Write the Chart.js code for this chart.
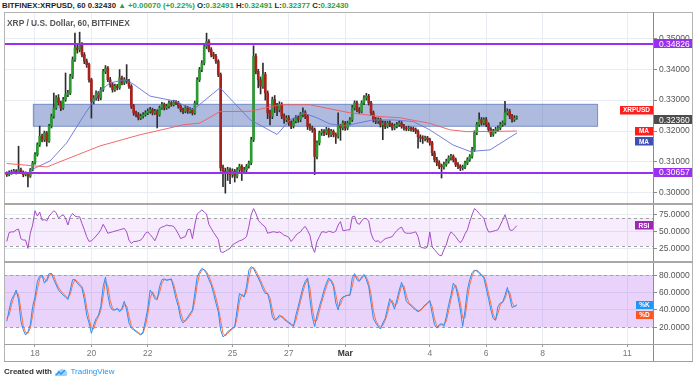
<!DOCTYPE html>
<html>
<head>
<meta charset="utf-8">
<script src="https://cdn.jsdelivr.net/npm/chart.js@4.4.1/dist/chart.umd.min.js"></script>
<style>
html,body{margin:0;padding:0;background:#fff;}
body{width:696px;height:382px;overflow:hidden;position:relative;font-family:"Liberation Sans",Arial,sans-serif;}
canvas{position:absolute;left:0;}
.ln{position:absolute;}
#hdr{position:absolute;left:2px;top:0;height:12px;line-height:12px;font-size:7.8px;font-weight:bold;color:#1e1e1e;white-space:nowrap;}
#hdr .g{color:#2f9e44;}
#sub{position:absolute;left:7px;top:18px;line-height:11px;font-size:8.4px;font-weight:bold;color:#555;white-space:nowrap;}
#foot{position:absolute;left:4px;top:366px;line-height:12px;font-size:8px;white-space:nowrap;color:#333;display:flex;align-items:center;}
#foot b{font-weight:bold;}
#foot .tv{color:#2196f3;}
</style>
</head>
<body>
<canvas id="cMain" width="696" height="191" style="top:13px"></canvas>
<canvas id="cRsi" width="696" height="58" style="top:204px"></canvas>
<canvas id="cSto" width="696" height="99" style="top:262px"></canvas>

<div class="ln" style="left:4px;top:12px;width:689px;height:1px;background:#b4b4b4"></div>
<div class="ln" style="left:4px;top:12px;width:1px;height:350px;background:#b4b4b4"></div>
<div class="ln" style="left:692px;top:12px;width:1px;height:350px;background:#b4b4b4"></div>
<div class="ln" style="left:653px;top:12px;width:1px;height:350px;background:#8c8c8c"></div>
<div class="ln" style="left:4px;top:203px;width:689px;height:2px;background:#a8a8a8"></div>
<div class="ln" style="left:4px;top:261px;width:689px;height:2px;background:#a8a8a8"></div>
<div class="ln" style="left:4px;top:344px;width:689px;height:1px;background:#a0a0a0"></div>
<div class="ln" style="left:4px;top:361px;width:689px;height:1px;background:#a0a0a0"></div>

<div id="hdr">BITFINEX:XRPUSD, 60 <span>0.32430</span> <span class="g">&#9650; +0.00070 (+0.22%)</span> O:<span class="g">0.32491</span> H:<span class="g">0.32491</span> L:<span class="g">0.32377</span> C:<span class="g">0.32430</span></div>
<div id="sub">XRP / U.S. Dollar, 60, BITFINEX</div>
<div id="foot"><b>Created with</b>&nbsp;<svg width="14" height="9" viewBox="0 0 14 9"><path d="M1 8 Q0 5 3 5 Q3 2 6 2 Q8 0 10 2 Q13 2 13 5 Q14 8 11 8 Z" fill="#9fd0f7"/><path d="M2 7 L5 4 L7 6 L11 2" stroke="#2196f3" stroke-width="1.3" fill="none"/></svg>&nbsp;<span class="tv">TradingView</span></div>

<script>
// ---------- data (2-hour candles, index 0 = Feb 16 ~22:00) ----------
const open=[
.3062,.3059,.3065,.3067,.3070,.3067,.3075,.3067,.3059,.3062,
.3054,.3075,.3097,.3124,.3156,.3183,.3172,.3194,.3167,.3216,
.3248,.3275,.3307,.3291,.3275,.3302,.3318,.3323,.3377,.3431,
.3469,.3463,.3480,.3447,.3426,.3415,.3366,.3296,.3307,.3323,
.3307,.3334,.3393,.3404,.3366,.3350,.3334,.3345,.3340,.3372,
.3356,.3366,.3361,.3345,.3280,.3259,.3253,.3242,.3248,.3253,
.3259,.3264,.3269,.3259,.3264,.3253,.3275,.3286,.3275,.3280,
.3291,.3286,.3293,.3291,.3280,.3269,.3264,.3275,.3264,.3269,
.3259,.3291,.3366,.3399,.3420,.3474,.3490,.3463,.3447,.3442,
.3426,.3383,.3081,.3070,.3065,.3075,.3059,.3070,.3054,.3075,
.3086,.3070,.3075,.3086,.3097,.3172,.3442,.3393,.3366,.3345,
.3383,.3323,.3259,.3248,.3302,.3280,.3269,.3286,.3248,.3237,
.3242,.3226,.3216,.3232,.3242,.3237,.3253,.3259,.3248,.3216,
.3210,.3205,.3118,.3162,.3194,.3199,.3194,.3205,.3189,.3199,
.3189,.3183,.3216,.3210,.3226,.3210,.3226,.3237,.3275,.3291,
.3269,.3264,.3291,.3307,.3313,.3291,.3259,.3237,.3232,.3237,
.3221,.3226,.3216,.3226,.3221,.3210,.3216,.3221,.3226,.3216,
.3210,.3207,.3210,.3207,.3205,.3199,.3181,.3178,.3175,.3178,
.3172,.3162,.3129,.3108,.3097,.3086,.3084,.3092,.3102,.3113,
.3118,.3108,.3092,.3086,.3081,.3084,.3097,.3108,.3118,.3140,
.3194,.3221,.3237,.3226,.3237,.3221,.3205,.3189,.3199,.3205,
.3210,.3221,.3226,.3259,.3264,.3248,.3237,.3242];
const high=[
.3068,.3071,.3074,.3076,.3075,.3151,.3080,.3071,.3068,.3066,
.3079,.3102,.3130,.3162,.3216,.3190,.3200,.3199,.3222,.3255,
.3323,.3315,.3318,.3297,.3309,.3388,.3332,.3384,.3440,.3517,
.3478,.3520,.3486,.3454,.3433,.3420,.3371,.3315,.3330,.3328,
.3341,.3400,.3412,.3409,.3374,.3356,.3352,.3351,.3399,.3378,
.3373,.3415,.3367,.3350,.3286,.3265,.3260,.3255,.3260,.3266,
.3272,.3277,.3274,.3270,.3269,.3281,.3293,.3291,.3287,.3298,
.3296,.3300,.3299,.3296,.3285,.3274,.3282,.3280,.3276,.3273,
.3297,.3373,.3406,.3428,.3482,.3517,.3496,.3470,.3455,.3448,
.3431,.3388,.3090,.3080,.3083,.3081,.3078,.3076,.3082,.3093,
.3091,.3083,.3092,.3103,.3180,.3476,.3450,.3400,.3375,.3420,
.3390,.3330,.3268,.3310,.3315,.3290,.3295,.3292,.3256,.3250,
.3250,.3233,.3240,.3250,.3248,.3260,.3275,.3266,.3253,.3223,
.3216,.3210,.3168,.3200,.3206,.3205,.3212,.3210,.3206,.3204,
.3194,.3259,.3222,.3233,.3231,.3232,.3244,.3283,.3298,.3297,
.3276,.3298,.3315,.3322,.3319,.3296,.3265,.3244,.3243,.3242,
.3233,.3232,.3232,.3233,.3226,.3223,.3228,.3233,.3231,.3222,
.3215,.3216,.3214,.3213,.3210,.3204,.3188,.3185,.3184,.3183,
.3177,.3167,.3135,.3115,.3104,.3093,.3100,.3109,.3120,.3125,
.3123,.3113,.3098,.3091,.3090,.3103,.3114,.3124,.3147,.3201,
.3228,.3259,.3244,.3243,.3244,.3227,.3211,.3206,.3212,.3217,
.3228,.3233,.3296,.3272,.3270,.3254,.3250,.3249];
const low=[
.3053,.3055,.3060,.3062,.3061,.3063,.3062,.3052,.3055,.3019,
.3050,.3071,.3093,.3119,.3150,.3165,.3166,.3151,.3163,.3210,
.3242,.3270,.3284,.3266,.3270,.3296,.3311,.3318,.3370,.3425,
.3452,.3456,.3440,.3418,.3406,.3358,.3242,.3288,.3300,.3298,
.3301,.3328,.3386,.3360,.3342,.3326,.3328,.3333,.3335,.3349,
.3350,.3354,.3338,.3273,.3251,.3246,.3236,.3237,.3242,.3248,
.3253,.3258,.3252,.3254,.3210,.3248,.3270,.3268,.3270,.3274,
.3280,.3281,.3285,.3274,.3262,.3256,.3259,.3257,.3258,.3252,
.3254,.3286,.3360,.3392,.3414,.3467,.3456,.3440,.3434,.3419,
.3376,.3070,.3020,.2999,.3040,.3030,.3050,.3035,.3048,.3068,
.3040,.3063,.3068,.3080,.3091,.3166,.3385,.3340,.3320,.3338,
.3300,.3240,.3220,.3240,.3260,.3250,.3262,.3240,.3225,.3230,
.3218,.3208,.3210,.3226,.3228,.3230,.3246,.3240,.3205,.3202,
.3196,.3059,.3110,.3155,.3186,.3185,.3188,.3180,.3182,.3181,
.3160,.3177,.3170,.3204,.3202,.3204,.3220,.3231,.3268,.3262,
.3257,.3259,.3285,.3300,.3284,.3252,.3229,.3224,.3225,.3213,
.3172,.3208,.3210,.3214,.3203,.3204,.3210,.3215,.3209,.3203,
.3201,.3201,.3200,.3198,.3192,.3145,.3165,.3160,.3168,.3164,
.3154,.3120,.3100,.3088,.3078,.3048,.3077,.3086,.3096,.3106,
.3100,.3085,.3078,.3072,.3074,.3078,.3091,.3102,.3112,.3134,
.3188,.3215,.3219,.3220,.3214,.3197,.3182,.3183,.3193,.3199,
.3204,.3215,.3220,.3252,.3240,.3229,.3231,.3238];
const close=[
.3059,.3065,.3067,.3070,.3067,.3075,.3067,.3059,.3062,.3054,
.3075,.3097,.3124,.3156,.3183,.3172,.3194,.3167,.3216,.3248,
.3275,.3307,.3291,.3275,.3302,.3318,.3323,.3377,.3431,.3469,
.3463,.3480,.3447,.3426,.3415,.3366,.3296,.3307,.3323,.3307,
.3334,.3393,.3404,.3366,.3350,.3334,.3345,.3340,.3372,.3356,
.3366,.3361,.3345,.3280,.3259,.3253,.3242,.3248,.3253,.3259,
.3264,.3269,.3259,.3264,.3253,.3275,.3286,.3275,.3280,.3291,
.3286,.3293,.3291,.3280,.3269,.3264,.3275,.3264,.3269,.3259,
.3291,.3366,.3399,.3420,.3474,.3490,.3463,.3447,.3442,.3426,
.3383,.3081,.3070,.3065,.3075,.3059,.3070,.3054,.3075,.3086,
.3070,.3075,.3086,.3097,.3172,.3442,.3393,.3366,.3345,.3383,
.3323,.3259,.3248,.3302,.3280,.3269,.3286,.3248,.3237,.3242,
.3226,.3216,.3232,.3242,.3237,.3253,.3259,.3248,.3216,.3210,
.3205,.3118,.3162,.3194,.3199,.3194,.3205,.3189,.3199,.3189,
.3183,.3216,.3210,.3226,.3210,.3226,.3237,.3275,.3291,.3269,
.3264,.3291,.3307,.3313,.3291,.3259,.3237,.3232,.3237,.3221,
.3226,.3216,.3226,.3221,.3210,.3216,.3221,.3226,.3216,.3210,
.3207,.3210,.3207,.3205,.3199,.3181,.3178,.3175,.3178,.3172,
.3162,.3129,.3108,.3097,.3086,.3084,.3092,.3102,.3113,.3118,
.3108,.3092,.3086,.3081,.3084,.3097,.3108,.3118,.3140,.3194,
.3221,.3237,.3226,.3237,.3221,.3205,.3189,.3199,.3205,.3210,
.3221,.3226,.3259,.3264,.3248,.3237,.3242,.3243];
const rsi=[
36,49,50,50,53,54,40,38,38,26,
48,60,81,73,79,67,68,66,73,77,
81,78,70,73,75,70,60,72,77,73,
72,72,62,53,43,36,37,40,44,48,
53,61,55,48,49,50,51,52,53,54,
55,50,38,33,36,36,37,38,42,48,
50,46,42,37,45,55,57,58,60,59,
59,58,53,47,40,42,43,53,54,40,
60,76,79,82,79,76,61,55,49,44,
39,21,20,22,24,26,31,33,35,37,
38,40,43,58,75,84,77,67,63,60,
57,48,49,50,50,49,50,48,45,44,
42,36,40,45,48,50,55,58,52,45,
28,20,36,43,50,50,49,51,50,49,
51,60,65,52,52,53,53,72,73,63,
61,66,70,69,66,48,39,36,37,34,
37,40,41,42,43,48,52,55,57,50,
48,48,48,49,50,43,28,27,26,28,
50,28,24,20,16,15,24,31,43,50,
47,43,38,34,39,47,53,65,75,84,
81,77,73,70,58,50,50,51,52,53,
60,67,75,65,53,52,55,59];
const stochK=[
27,40,52,57,63,52,27,17,11,15,
23,44,55,73,79,80,71,75,82,82,
75,69,63,60,57,55,52,63,75,75,
71,68,65,52,34,25,13,23,30,34,
44,67,78,57,44,40,40,42,38,42,
50,40,25,19,17,15,13,11,15,28,
42,63,59,53,52,67,75,76,74,75,
76,65,53,44,30,25,28,32,36,40,
59,78,84,88,86,82,75,69,59,48,
38,17,9,11,15,17,19,21,40,59,
57,55,67,86,90,88,82,77,71,64,
59,59,48,32,28,30,34,32,29,27,
25,23,21,34,44,55,66,73,77,52,
32,21,34,44,53,63,71,77,73,67,
48,40,52,55,56,57,57,77,82,75,
73,78,81,75,67,48,30,25,21,18,
25,30,42,53,48,41,52,63,72,63,
50,47,45,42,40,38,40,43,46,48,
51,36,23,19,23,24,21,32,46,57,
71,67,55,40,21,40,63,75,83,86,
85,82,80,77,65,53,40,30,28,44,
48,49,57,66,55,43,44,46];
const stochD=[
30,34,46,55,60,58,40,22,14,13,
19,34,50,64,76,80,76,73,79,82,
79,72,66,62,59,56,54,58,69,75,
73,70,67,59,43,30,19,18,27,32,
39,56,73,68,51,42,40,41,40,40,
46,45,33,22,18,16,14,12,13,22,
35,53,61,56,53,60,71,75,75,75,
75,70,59,49,37,28,27,30,34,38,
50,69,81,86,87,84,79,72,64,54,
43,28,13,10,13,16,18,20,31,50,
58,56,61,77,88,89,85,80,74,68,
62,59,54,40,30,29,32,33,31,28,
26,24,22,28,39,50,61,70,75,65,
42,27,28,39,49,58,67,74,75,70,
58,44,46,54,56,57,57,67,80,79,
74,76,80,78,71,58,39,28,23,20,
22,28,36,48,51,45,47,58,68,68,
57,49,46,44,41,39,39,42,45,47,
50,44,30,21,21,24,23,27,39,52,
64,69,61,48,31,31,52,69,79,85,
86,84,81,79,71,59,47,35,29,36,
46,49,53,62,61,49,44,45];
const maSlowIdx=[0,17.1,39.7,56.7,75,82.2,90.7,103.5,116.3,129,146,158.8,167.3,180,188.6,195.8,217.1];
const maSlowVal=[.3095,.3084,.3152,.3188,.3220,.3226,.3263,.3264,.3285,.3285,.3259,.3247,.3243,.3225,.3204,.3198,.3200];
const maFastIdx=[10.5,18.4,25.5,32.6,39.7,43.9,50.3,53.8,61,71.6,79.4,90.7,103.5,115,120.5,126,132,137.5,143.9,155.8,164.3,172.9,180,189.9,197.1,205.6,217.1];
const maFastVal=[.3075,.3103,.3162,.3248,.3329,.3356,.3366,.3352,.3313,.3297,.3269,.3340,.3237,.3189,.3236,.3259,.3243,.3223,.3217,.3236,.3236,.3231,.3204,.3155,.3134,.3139,.3194];
const tickIdx=[12,36,60,96,120,144,180,204,228,264];
const tickLabels=['18','20','22','25','27','Mar','4','6','8','11'];
const priceTicks=[0.30,0.31,0.32,0.33,0.34,0.35];
const rsiTicks=[25,50,75];
const stochTicks=[20,40,60,80];
const levels=[0.34826,0.30657];
const zonePrice=[0.3214,0.3288];
const zoneIdx=[11.1,251.6];
const lastPrice=0.32360;
const rsiBand=[30,70];
const stochBand=[20,80];

// ---------- rendering ----------
const FONT='"Liberation Sans", Arial, sans-serif';
Chart.defaults.font.family=FONT;
const X_MIN=-1.19, X_MAX=274.98;
const GRID='#e8edf3';
const PURPLE='#9b2ff0';
function xScale(show){
  return {type:'linear',min:X_MIN,max:X_MAX,offset:false,
    grid:{color:GRID,offset:false,drawTicks:show,tickLength:3,tickColor:'#999'},
    border:{display:false},
    afterBuildTicks:s=>{s.ticks=tickIdx.map(v=>({value:v}));},
    ticks:{display:show,autoSkip:false,maxRotation:0,minRotation:0,padding:2,
      color:c=>tickLabels[c.index]==='Mar'?'#333':'#777',
      font:c=>({size:8.5,weight:tickLabels[c.index]==='Mar'?'bold':'normal'}),
      callback:v=>{const k=tickIdx.indexOf(v);return k<0?'':tickLabels[k];}},
    afterFit:s=>{s.height=show?17:0;s.paddingLeft=0;s.paddingRight=0;}
  };
}
function yScale(min,max,ticks,dec){
  return {position:'right',min:min,max:max,
    grid:{color:GRID,drawTicks:true,tickLength:4,tickColor:'#8c8c8c'},
    border:{display:false},
    afterBuildTicks:s=>{s.ticks=ticks.map(v=>({value:v}));},
    ticks:{padding:2,color:'#555',font:{size:8.5},callback:v=>Number(v).toFixed(dec)},
    afterFit:s=>{s.width=43;s.paddingTop=0;s.paddingBottom=0;}
  };
}
function tag(ctx,x0,x1,yc,h,bg,fg,txt,font,tx,align){
  ctx.fillStyle=bg;ctx.fillRect(x0,Math.round(yc-h/2),x1-x0,h);
  ctx.fillStyle=fg;ctx.font=font;ctx.textBaseline='middle';ctx.textAlign=align||'center';
  ctx.fillText(txt,tx!==undefined?tx:(x0+x1)/2,yc+0.5);
}
const baseOpts={responsive:false,devicePixelRatio:1,animation:false,
  layout:{padding:{left:4,right:0,top:0,bottom:0}},
  plugins:{legend:{display:false},tooltip:{enabled:false}}};

const mainDeco={id:'mainDeco',
  beforeDatasetsDraw(ch){
    const {ctx,scales:{x,y}}=ch;
    const x0=x.getPixelForValue(zoneIdx[0]),x1=x.getPixelForValue(zoneIdx[1]);
    const y0=y.getPixelForValue(zonePrice[1]),y1=y.getPixelForValue(zonePrice[0]);
    ctx.save();ctx.fillStyle='rgba(78,104,182,0.45)';ctx.fillRect(x0,y0,x1-x0,y1-y0);
    ctx.strokeStyle='rgba(78,104,182,0.5)';ctx.lineWidth=1;ctx.strokeRect(x0+0.5,y0+0.5,x1-x0-1,y1-y0-1);ctx.restore();
  },
  afterDatasetsDraw(ch){
    const {ctx,chartArea:a,scales:{y}}=ch;
    ctx.save();ctx.strokeStyle=PURPLE;ctx.lineWidth=2;
    levels.forEach(v=>{const p=Math.round(y.getPixelForValue(v));ctx.beginPath();ctx.moveTo(a.left,p);ctx.lineTo(a.right,p);ctx.stroke();});
    ctx.restore();
  },
  afterDraw(ch){
    const {ctx,chartArea:a,scales:{y}}=ch;
    ctx.save();
    const f='8.5px '+FONT, fs='bold 6.5px '+FONT;
    levels.forEach(v=>tag(ctx,654,692,y.getPixelForValue(v),9,PURPLE,'#fff',v.toFixed(5),f,659,'left'));
    const lp=y.getPixelForValue(lastPrice);
    tag(ctx,654,692,lp,9,'#4d4d4d','#fff',lastPrice.toFixed(5),f,659,'left');
    tag(ctx,620,a.right,lp-10,8.5,'#ff1e1e','#fff','XRPUSD',fs);
    const mp=y.getPixelForValue(maSlowVal[maSlowVal.length-1]);
    tag(ctx,635,a.right,mp,8.5,'#ff1e1e','#fff','MA',fs);
    tag(ctx,635,a.right,mp+10.5,8.5,'#3f4fb5','#fff','MA',fs);
    ctx.restore();
  }};

const UP='#2b9a30', DN='#a8221b';
new Chart(document.getElementById('cMain'),{
  type:'bar',
  data:{datasets:[
    {type:'line',data:maSlowIdx.map((v,i)=>({x:v,y:maSlowVal[i]})),borderColor:'rgba(238,92,92,0.9)',borderWidth:1,pointRadius:0,order:0},
    {type:'line',data:maFastIdx.map((v,i)=>({x:v,y:maFastVal[i]})),borderColor:'rgba(104,114,214,0.9)',borderWidth:1,pointRadius:0,order:0},
    {data:close.map((c,i)=>({x:i,y:[open[i],c]})),backgroundColor:c=>close[c.dataIndex]>=open[c.dataIndex]?UP:DN,barThickness:2,minBarLength:1,grouped:false,order:1},
    {data:close.map((c,i)=>({x:i,y:[low[i],high[i]]})),backgroundColor:'#2e2e2e',barThickness:1,grouped:false,order:2}
  ]},
  options:Object.assign({},baseOpts,{scales:{x:xScale(false),y:yScale(0.2964,0.3582,priceTicks,5)}}),
  plugins:[mainDeco]
});

function bandPlugin(id,band,fill,tagFn){
  return {id:id,
    beforeDatasetsDraw(ch){
      const {ctx,chartArea:a,scales:{y}}=ch;
      const y0=Math.round(y.getPixelForValue(band[1])),y1=Math.round(y.getPixelForValue(band[0]));
      ctx.save();ctx.fillStyle=fill;ctx.fillRect(a.left,y0,a.right-a.left,y1-y0);
      ctx.strokeStyle='#a0a0a0';ctx.setLineDash([3,3]);ctx.lineWidth=1;
      [y0,y1].forEach(p=>{ctx.beginPath();ctx.moveTo(a.left,p+0.5);ctx.lineTo(a.right,p+0.5);ctx.stroke();});
      ctx.restore();
    },
    afterDraw(ch){ch.ctx.save();tagFn(ch);ch.ctx.restore();}
  };
}
const fsm='bold 6.5px '+FONT;
new Chart(document.getElementById('cRsi'),{
  type:'line',
  data:{datasets:[{data:rsi.map((v,i)=>({x:i,y:v})),borderColor:'#a54cc4',borderWidth:1,pointRadius:0}]},
  options:Object.assign({},baseOpts,{scales:{x:xScale(false),y:yScale(6,90.7,rsiTicks,4)}}),
  plugins:[bandPlugin('rsiBand',rsiBand,'rgba(165,70,235,0.10)',ch=>{
    const {ctx,chartArea:a,scales:{y}}=ch;
    tag(ctx,635,a.right,y.getPixelForValue(rsi[rsi.length-1]),8.5,'#9c27b0','#fff','RSI',fsm);
  })]
});
new Chart(document.getElementById('cSto'),{
  type:'line',
  data:{datasets:[
    {data:stochK.map((v,i)=>({x:i,y:v})),borderColor:'#2a8ef2',borderWidth:1,pointRadius:0},
    {data:stochD.map((v,i)=>({x:i,y:v})),borderColor:'#ff7043',borderWidth:1,pointRadius:0}
  ]},
  options:Object.assign({},baseOpts,{scales:{x:xScale(true),y:yScale(0.7,95.4,stochTicks,4)}}),
  plugins:[bandPlugin('stoBand',stochBand,'rgba(165,70,235,0.24)',ch=>{
    const {ctx,chartArea:a,scales:{y}}=ch;
    const p=y.getPixelForValue(stochK[stochK.length-1]);
    tag(ctx,636,a.right,p,8,'#2196f3','#fff','%K',fsm);
    tag(ctx,636,a.right,p+10,8,'#ff5722','#fff','%D',fsm);
  })]
});
</script>
</body>
</html>
